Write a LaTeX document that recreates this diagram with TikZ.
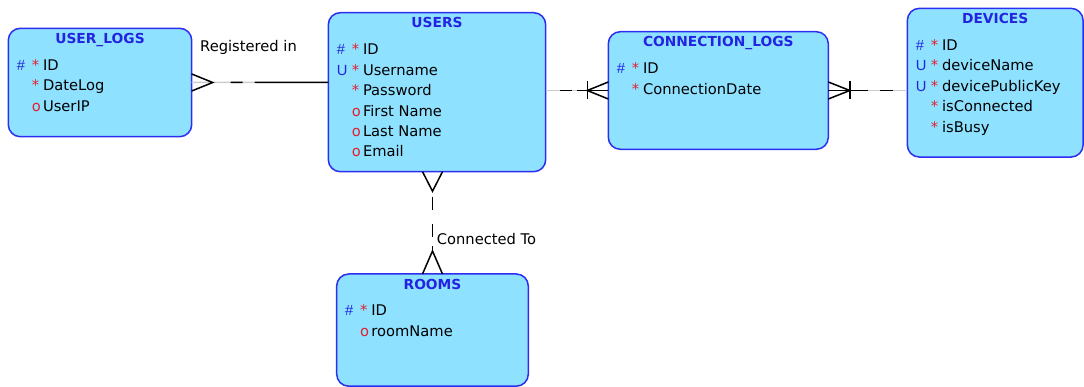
\documentclass[tikz,border=0pt]{standalone}
\usepackage{fontspec}
\setmainfont{DejaVu Sans}
\newfontfamily\markfont{Liberation Sans}
\usetikzlibrary{calc}

\definecolor{entfill}{RGB}{142,226,255}
\definecolor{entdraw}{RGB}{45,45,240}
\definecolor{keyblue}{RGB}{35,35,225}
\definecolor{optred}{RGB}{228,30,45}
\definecolor{dashgray}{RGB}{205,205,205}

\tikzset{
  entity/.style={rectangle, draw=entdraw, fill=entfill, line width=1.5pt,
    rounded corners=12pt, inner sep=0pt, outer sep=0pt},
  etitle/.style={anchor=base, text=keyblue, inner sep=0pt,
    font=\fontsize{13.8pt}{16pt}\selectfont\bfseries},
  mkA/.style={anchor=base west, text=keyblue, inner sep=0pt,
    font=\markfont\fontsize{14.7pt}{17pt}\selectfont},
  mkB/.style={anchor=base west, text=optred, inner sep=0pt,
    font=\fontsize{14.7pt}{17pt}\selectfont},
  attr/.style={anchor=base west, text=black, inner sep=0pt,
    font=\fontsize{14.7pt}{17pt}\selectfont},
  rel/.style={anchor=base west, text=black, inner sep=0pt,
    font=\fontsize{14.7pt}{17pt}\selectfont},
  link/.style={draw=black, line width=1.5pt},
  underlay/.style={draw=dashgray, line width=1.5pt},
  pics/crow/.style 2 args={code={\draw[link] (0,-#2) -- (#1,0) -- (0,#2);}},
  pics/crowbar/.style 2 args={code={
    \draw[link] (0,-#2) -- (#1,0) -- (0,#2);
    \draw[link] (#1,-9) -- (#1,9);}},
}

% attribute rows of an entity: key marker / optionality marker / name
\newcommand\entattrs[2]{%
  \foreach \ka/\kb/\nm [count=\i from 0] in {#2} {
    \node[mkA] (#1-k\i) at ($(#1.north west)+(8.3,42+20.45*\i)$) {\ka};
    \node[mkB] (#1-o\i) at ($(#1.north west)+(23.3,42+20.45*\i)$) {\kb};
    \node[attr] (#1-a\i) at ($(#1.north west)+(34.5,42+20.45*\i)$) {\nm};
  }}

\begin{document}
\begin{tikzpicture}[x=1pt,y=-1pt]
\useasboundingbox (0,0) rectangle (1084,387);

% entities
\node[entity, minimum width=183.4pt, minimum height=108.4pt] (ul) at (100,82.5) {};
\node[entity, minimum width=217.4pt, minimum height=159pt] (us) at (437,92.2) {};
\node[entity, minimum width=220pt, minimum height=117.6pt] (cl) at (718.3,90.5) {};
\node[entity, minimum width=175.7pt, minimum height=148.7pt] (dv) at (995.2,82.7) {};
\node[entity, minimum width=191.6pt, minimum height=112.2pt] (rm) at (432.5,330.1) {};

% titles
\node[etitle] (ul-t) at ($(ul.north)+(0,15.3)$) {USER\_LOGS};
\node[etitle] (us-t) at ($(us.north)+(0,15.3)$) {USERS};
\node[etitle] (cl-t) at ($(cl.north)+(0,15.3)$) {CONNECTION\_LOGS};
\node[etitle] (dv-t) at ($(dv.north)+(0,15.3)$) {DEVICES};
\node[etitle] (rm-t) at ($(rm.north)+(0,15.3)$) {ROOMS};

% attributes
\entattrs{ul}{\#/*/ID, \relax/*/DateLog, \relax/o/UserIP}
\entattrs{us}{\#/*/ID, U/*/Username, \relax/*/Password, \relax/o/First Name, \relax/o/Last Name, \relax/o/Email}
\entattrs{cl}{\#/*/ID, \relax/*/ConnectionDate}
\entattrs{dv}{\#/*/ID, U/*/deviceName, U/*/devicePublicKey, \relax/*/isConnected, \relax/*/isBusy}
\entattrs{rm}{\#/*/ID, \relax/o/roomName}

% USER_LOGS -- USERS
\coordinate (m1) at ($(ul.east)!0.46!(ul.east -| us.west)$);
\draw[underlay] (ul.east) -- (m1);
\draw[link, dash pattern=on 0pt off 39pt on 12pt off 200pt] (ul.east) -- (m1);
\draw[link] (m1) -- (ul.east -| us.west);
\pic at (ul.east) {crow={21}{8.5}};

% USERS -- CONNECTION_LOGS
\coordinate (m2) at ($(cl.west -| us.east)!0.5!(cl.west)$);
\draw[underlay] (cl.west -| us.east) -- (m2);
\draw[link, dash pattern=on 0pt off 14pt on 12pt off 200pt] (cl.west -| us.east) -- (m2);
\draw[link] (m2) -- (cl.west);
\pic[rotate=180] at (cl.west) {crowbar={21}{8.5}};

% CONNECTION_LOGS -- DEVICES
\coordinate (m3) at ($(cl.east)!0.5!(cl.east -| dv.west)$);
\draw[link] (cl.east) -- (m3);
\draw[underlay] (m3) -- (cl.east -| dv.west);
\draw[link, dash pattern=on 0pt off 12pt on 13pt off 200pt] (m3) -- (cl.east -| dv.west);
\pic at (cl.east) {crowbar={21.5}{8.5}};

% USERS -- ROOMS
\draw[link, dash pattern=on 0pt off 25.3pt on 13.3pt off 13.3pt on 13.4pt off 9pt on 4.5pt off 200pt]
  (rm.north |- us.south) -- (rm.north);
\pic[rotate=-90] at (rm.north |- us.south) {crow={19.5}{10}};
\pic[rotate=90] at (rm.north) {crow={23}{10}};

% relationship names
\node[rel] (lreg) at (200,51.7) {Registered in};
\node[rel] (lcon) at (436.7,245) {Connected To};
\end{tikzpicture}
\end{document}
